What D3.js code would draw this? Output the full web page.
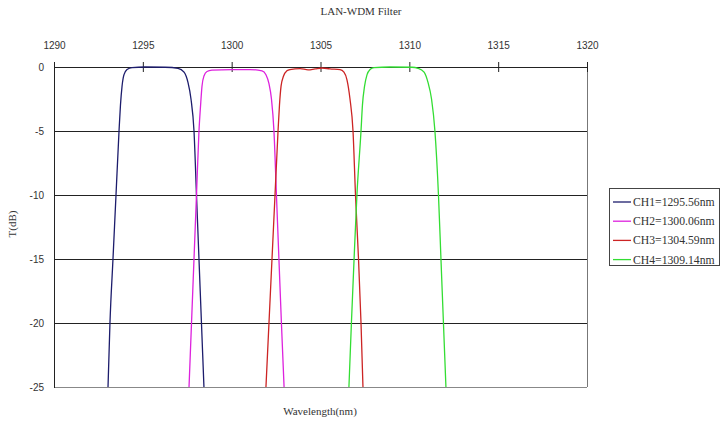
<!DOCTYPE html>
<html><head><meta charset="utf-8">
<script src="https://cdn.jsdelivr.net/npm/d3@7"></script>
<style>
html,body{margin:0;padding:0;background:#fff;}
svg{display:block;}
</style></head>
<body>
<svg id="chart" width="723" height="430"></svg>
<script>
// ---- data ----
const title = "LAN-WDM Filter";
const xLabel = "Wavelength(nm)";
const yLabel = "T(dB)";
const xTicks = [1290, 1295, 1300, 1305, 1310, 1315, 1320];
const yTicks = [0, -5, -10, -15, -20, -25];
const channelNames = ["CH1=1295.56nm", "CH2=1300.06nm", "CH3=1304.59nm", "CH4=1309.14nm"];
const channelColors = ["#1c1c6c", "#dd22dd", "#cc2424", "#33dd33"];

const ch1Wl = [1293.04,1293.15,1293.32,1293.49,1293.66,1293.74,1293.83,1293.94,1294.11,1294.39,1295.12,1296.25,1296.98,1297.32,1297.54,1297.71,1297.88,1298.02,1298.16,1298.30,1298.44];
const ch1dB = [-25,-20,-15,-10,-5,-3,-1.5,-0.6,-0.2,-0.05,0,-0.02,-0.1,-0.4,-1.2,-2.5,-5,-10,-15,-20,-25];

const ch2Wl = [1297.60,1297.74,1297.88,1298.02,1298.16,1298.25,1298.33,1298.44,1298.61,1298.89,1300.02,1301.03,1301.71,1301.93,1302.10,1302.24,1302.38,1302.52,1302.66,1302.80,1302.95];
const ch2dB = [-25,-20,-15,-10,-5,-3,-1.5,-0.7,-0.35,-0.25,-0.2,-0.2,-0.3,-0.6,-1.3,-2.5,-5,-10,-15,-20,-25];

const ch3Wl = [1301.93,1302.10,1302.27,1302.44,1302.61,1302.69,1302.78,1302.92,1303.11,1303.28,1303.85,1304.30,1304.69,1305.08,1305.53,1306.10,1306.32,1306.49,1306.66,1306.83,1306.97,1307.14,1307.28,1307.39];
const ch3dB = [-25,-20,-15,-10,-5,-3,-1.5,-0.7,-0.3,-0.2,-0.12,-0.22,-0.15,-0.08,-0.15,-0.2,-0.4,-1,-2.5,-5,-10,-15,-20,-25];

const ch4Wl = [1306.60,1306.74,1306.89,1307.05,1307.28,1307.36,1307.48,1307.62,1307.79,1308.01,1308.91,1310.15,1310.49,1310.83,1311.05,1311.25,1311.44,1311.64,1311.78,1311.92,1312.06];
const ch4dB = [-25,-20,-15,-10,-5,-3,-1.5,-0.6,-0.2,-0.05,0,-0.02,-0.1,-0.4,-1.2,-2.5,-5,-10,-15,-20,-25];

const series = [
  {wl: ch1Wl, db: ch1dB},
  {wl: ch2Wl, db: ch2dB},
  {wl: ch3Wl, db: ch3dB},
  {wl: ch4Wl, db: ch4dB}
];

// ---- layout ----
const svg = d3.select("#chart");
const L = 54, R = 587, T = 67, B = 387;
const x = d3.scaleLinear().domain([1290, 1320]).range([L, R]);
const y = d3.scaleLinear().domain([0, -25]).range([T, B]);
const serif = "'Liberation Serif','Times New Roman',serif";
const sans = "'Liberation Sans',Arial,sans-serif";
const plain = d => String(d);

// title
svg.append("text").attr("x", 361).attr("y", 15).attr("text-anchor", "middle")
  .attr("font-family", serif).attr("font-size", 11).attr("fill", "#333").text(title);

// gridlines
svg.append("g").selectAll("line").data(yTicks.filter(d => d !== 0 && d !== -25)).join("line")
  .attr("x1", L).attr("x2", R).attr("y1", d => y(d)).attr("y2", d => y(d))
  .attr("stroke", "#222").attr("stroke-width", 1).attr("shape-rendering", "crispEdges");

// plot border (bottom / right)
svg.append("line").attr("x1", L).attr("x2", R).attr("y1", y(-25)).attr("y2", y(-25))
  .attr("stroke", "#888").attr("shape-rendering", "crispEdges");
svg.append("line").attr("x1", R).attr("x2", R).attr("y1", T).attr("y2", B)
  .attr("stroke", "#777").attr("shape-rendering", "crispEdges");

// left axis
const yAxis = d3.axisLeft(y).tickValues(yTicks).tickSize(0).tickPadding(10).tickFormat(plain);
const gy = svg.append("g").attr("transform", `translate(${L},0)`).call(yAxis);
gy.select(".domain").attr("stroke", "#222").attr("shape-rendering", "crispEdges");
gy.selectAll("text").attr("font-family", sans).attr("font-size", 10).attr("fill", "#333");

// top axis
const xAxis = d3.axisTop(x).tickValues(xTicks).tickSizeInner(5).tickSizeOuter(0).tickPadding(13).tickFormat(plain);
const gx = svg.append("g").attr("transform", `translate(0,${T})`).call(xAxis);
gx.select(".domain").attr("stroke", "#222").attr("shape-rendering", "crispEdges");
gx.selectAll(".tick line").attr("y1", 5).attr("y2", -5).attr("stroke", "#222");
gx.selectAll("text").attr("font-family", sans).attr("font-size", 10).attr("fill", "#333");

// axis titles
svg.append("text").attr("x", 320).attr("y", 415).attr("text-anchor", "middle")
  .attr("font-family", serif).attr("font-size", 11).attr("fill", "#333").text(xLabel);
svg.append("text").attr("transform", "translate(16,224) rotate(-90)").attr("text-anchor", "middle")
  .attr("font-family", serif).attr("font-size", 11).attr("fill", "#333").text(yLabel);

// curves
const line = d3.line().x(d => x(d[0])).y(d => y(d[1])).curve(d3.curveMonotoneX);
series.forEach((s, i) => {
  const pts = s.wl.map((w, k) => [w, s.db[k]]);
  svg.append("path").datum(pts).attr("d", line).attr("fill", "none")
    .attr("stroke", channelColors[i]).attr("stroke-width", 1.3);
});

// legend
const lg = svg.append("g");
lg.append("rect").attr("x", 609.5).attr("y", 188.5).attr("width", 110).attr("height", 77)
  .attr("fill", "#fff").attr("stroke", "#444").attr("stroke-width", 1);
channelNames.forEach((n, i) => {
  const yy = 202 + i * 19.2;
  lg.append("line").attr("x1", 613).attr("x2", 631).attr("y1", yy).attr("y2", yy)
    .attr("stroke", channelColors[i]).attr("stroke-width", 1.3);
  lg.append("text").attr("x", 633).attr("y", yy + 4).attr("font-family", serif)
    .attr("font-size", 11.7).attr("fill", "#333").text(n);
});
</script>
</body></html>
